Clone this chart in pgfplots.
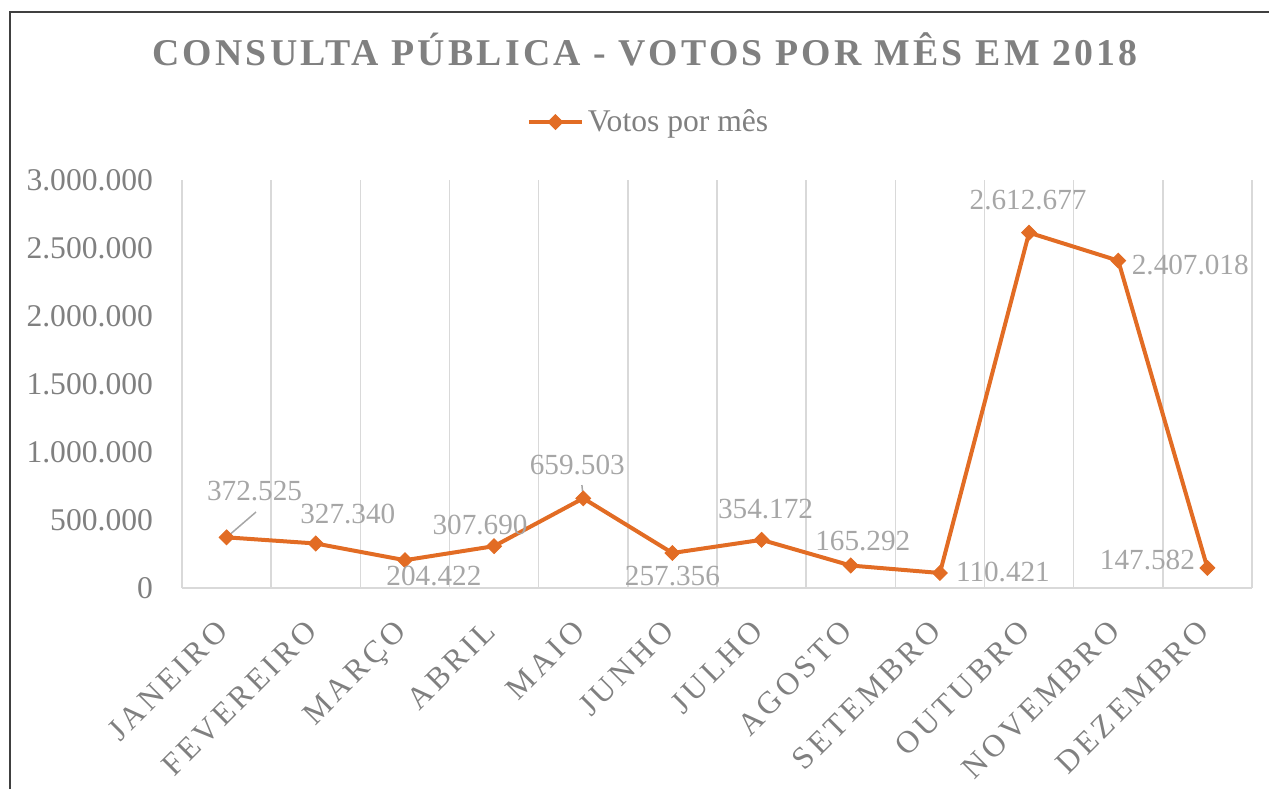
\documentclass[border=0pt]{standalone}
\usepackage{fontspec}
\setmainfont{Liberation Serif}
\newfontfamily\titlefont{Liberation Serif}[LetterSpace=8.6]
\newfontfamily\spacedfont{Liberation Serif}[LetterSpace=12]
\usepackage{pgfplots}
\pgfplotsset{compat=1.18}
\usepackage{pgfplotstable}

\definecolor{orangeline}{RGB}{226,108,36}
\definecolor{ticktext}{RGB}{128,128,128}
\definecolor{labeltext}{RGB}{166,166,166}
\definecolor{gridgray}{RGB}{217,217,217}
\definecolor{framegray}{RGB}{64,64,64}

\newcommand\tickfont{\fontsize{15.8}{19}\selectfont}
\newcommand\labfont{\fontsize{14.6}{17}\selectfont}

% month index, votes, label offset (pt), label text
\pgfplotstableread{
x y dx dy lbl
0 372525 14 23 372.525
1 327340 16 14.75 327.340
2 204422 14.5 -8 204.422
3 307690 -7 10.5 307.690
4 659503 -3 16.5 659.503
5 257356 0 -11.5 257.356
6 354172 2 15.5 354.172
7 165292 6 12.25 165.292
8 110421 31.5 0.5 110.421
9 2612677 -0.5 16.5 2.612.677
10 2407018 36 -2 2.407.018
11 147582 -30 4 147.582
}\votos

\begin{document}
\begin{tikzpicture}
\useasboundingbox (0,0) rectangle (634.5pt,394.5pt);
\draw[framegray, line width=1pt] (5pt,0pt) -- (5pt,388.5pt) -- (640pt,388.5pt);

\begin{axis}[
    at={(91pt,100.5pt)}, anchor=south west,
    scale only axis,
    width=535pt, height=204pt,
    xmin=-0.5, xmax=11.5,
    ymin=0, ymax=3000000,
    axis line style={draw=none},
    major tick length=0pt,
    xtick={0,...,11},
    xticklabels={JANEIRO,FEVEREIRO,MARÇO,ABRIL,MAIO,JUNHO,JULHO,AGOSTO,SETEMBRO,OUTUBRO,NOVEMBRO,DEZEMBRO},
    minor xtick={-0.5,0.5,...,11.5},
    xminorgrids,
    minor tick length=0pt,
    minor grid style={gridgray, line width=0.75pt},
    xticklabel style={xshift=-5.9pt, yshift=-13.7pt, rotate=45, anchor=north east,
        text=ticktext, font=\spacedfont\tickfont, inner sep=1pt},
    ytick={0,500000,...,3000000},
    scaled y ticks=false,
    yticklabel style={text=ticktext, font=\tickfont, xshift=-11pt,
        /pgf/number format/.cd, fixed, 1000 sep={.}, assume math mode=true},
    legend style={at={(0.437,1.142)}, anchor=center, draw=none, fill=none,
        font=\tickfont, text=ticktext, inner sep=0pt},
    legend image code/.code={%
        \draw[mark repeat=2, mark phase=2, #1] plot coordinates {(0pt,0pt) (13.25pt,0pt) (26.5pt,0pt)};},
    clip=false,
]
\draw[gridgray, line width=0.75pt] (rel axis cs:0,0) -- (rel axis cs:1,0);
\draw[labeltext, line width=0.75pt] (axis cs:0,372525) -- (axis cs:0.33,558800);
\draw[labeltext, line width=0.75pt] (axis cs:4,659503) -- (axis cs:3.985,757000);
\addplot[
    orangeline, line width=2pt,
    mark=square*, mark size=2.6pt,
    mark options={rotate=45, solid, fill=orangeline, line width=0.5pt},
    point meta=explicit symbolic,
    visualization depends on={\thisrow{dx}\as\labdx},
    visualization depends on={\thisrow{dy}\as\labdy},
    nodes near coords,
    nodes near coords style={anchor=center, xshift=\labdx pt, yshift=\labdy pt,
        text=labeltext, font=\labfont, inner sep=0pt},
] table[x=x, y=y, meta=lbl] {\votos};
\addlegendentry{Votos por mês}
\end{axis}

\node[text=ticktext, font=\titlefont\bfseries\fontsize{18.9}{22}\selectfont] at (322.5pt,370pt) {CONSULTA PÚBLICA - VOTOS POR MÊS EM 2018};
\end{tikzpicture}
\end{document}
